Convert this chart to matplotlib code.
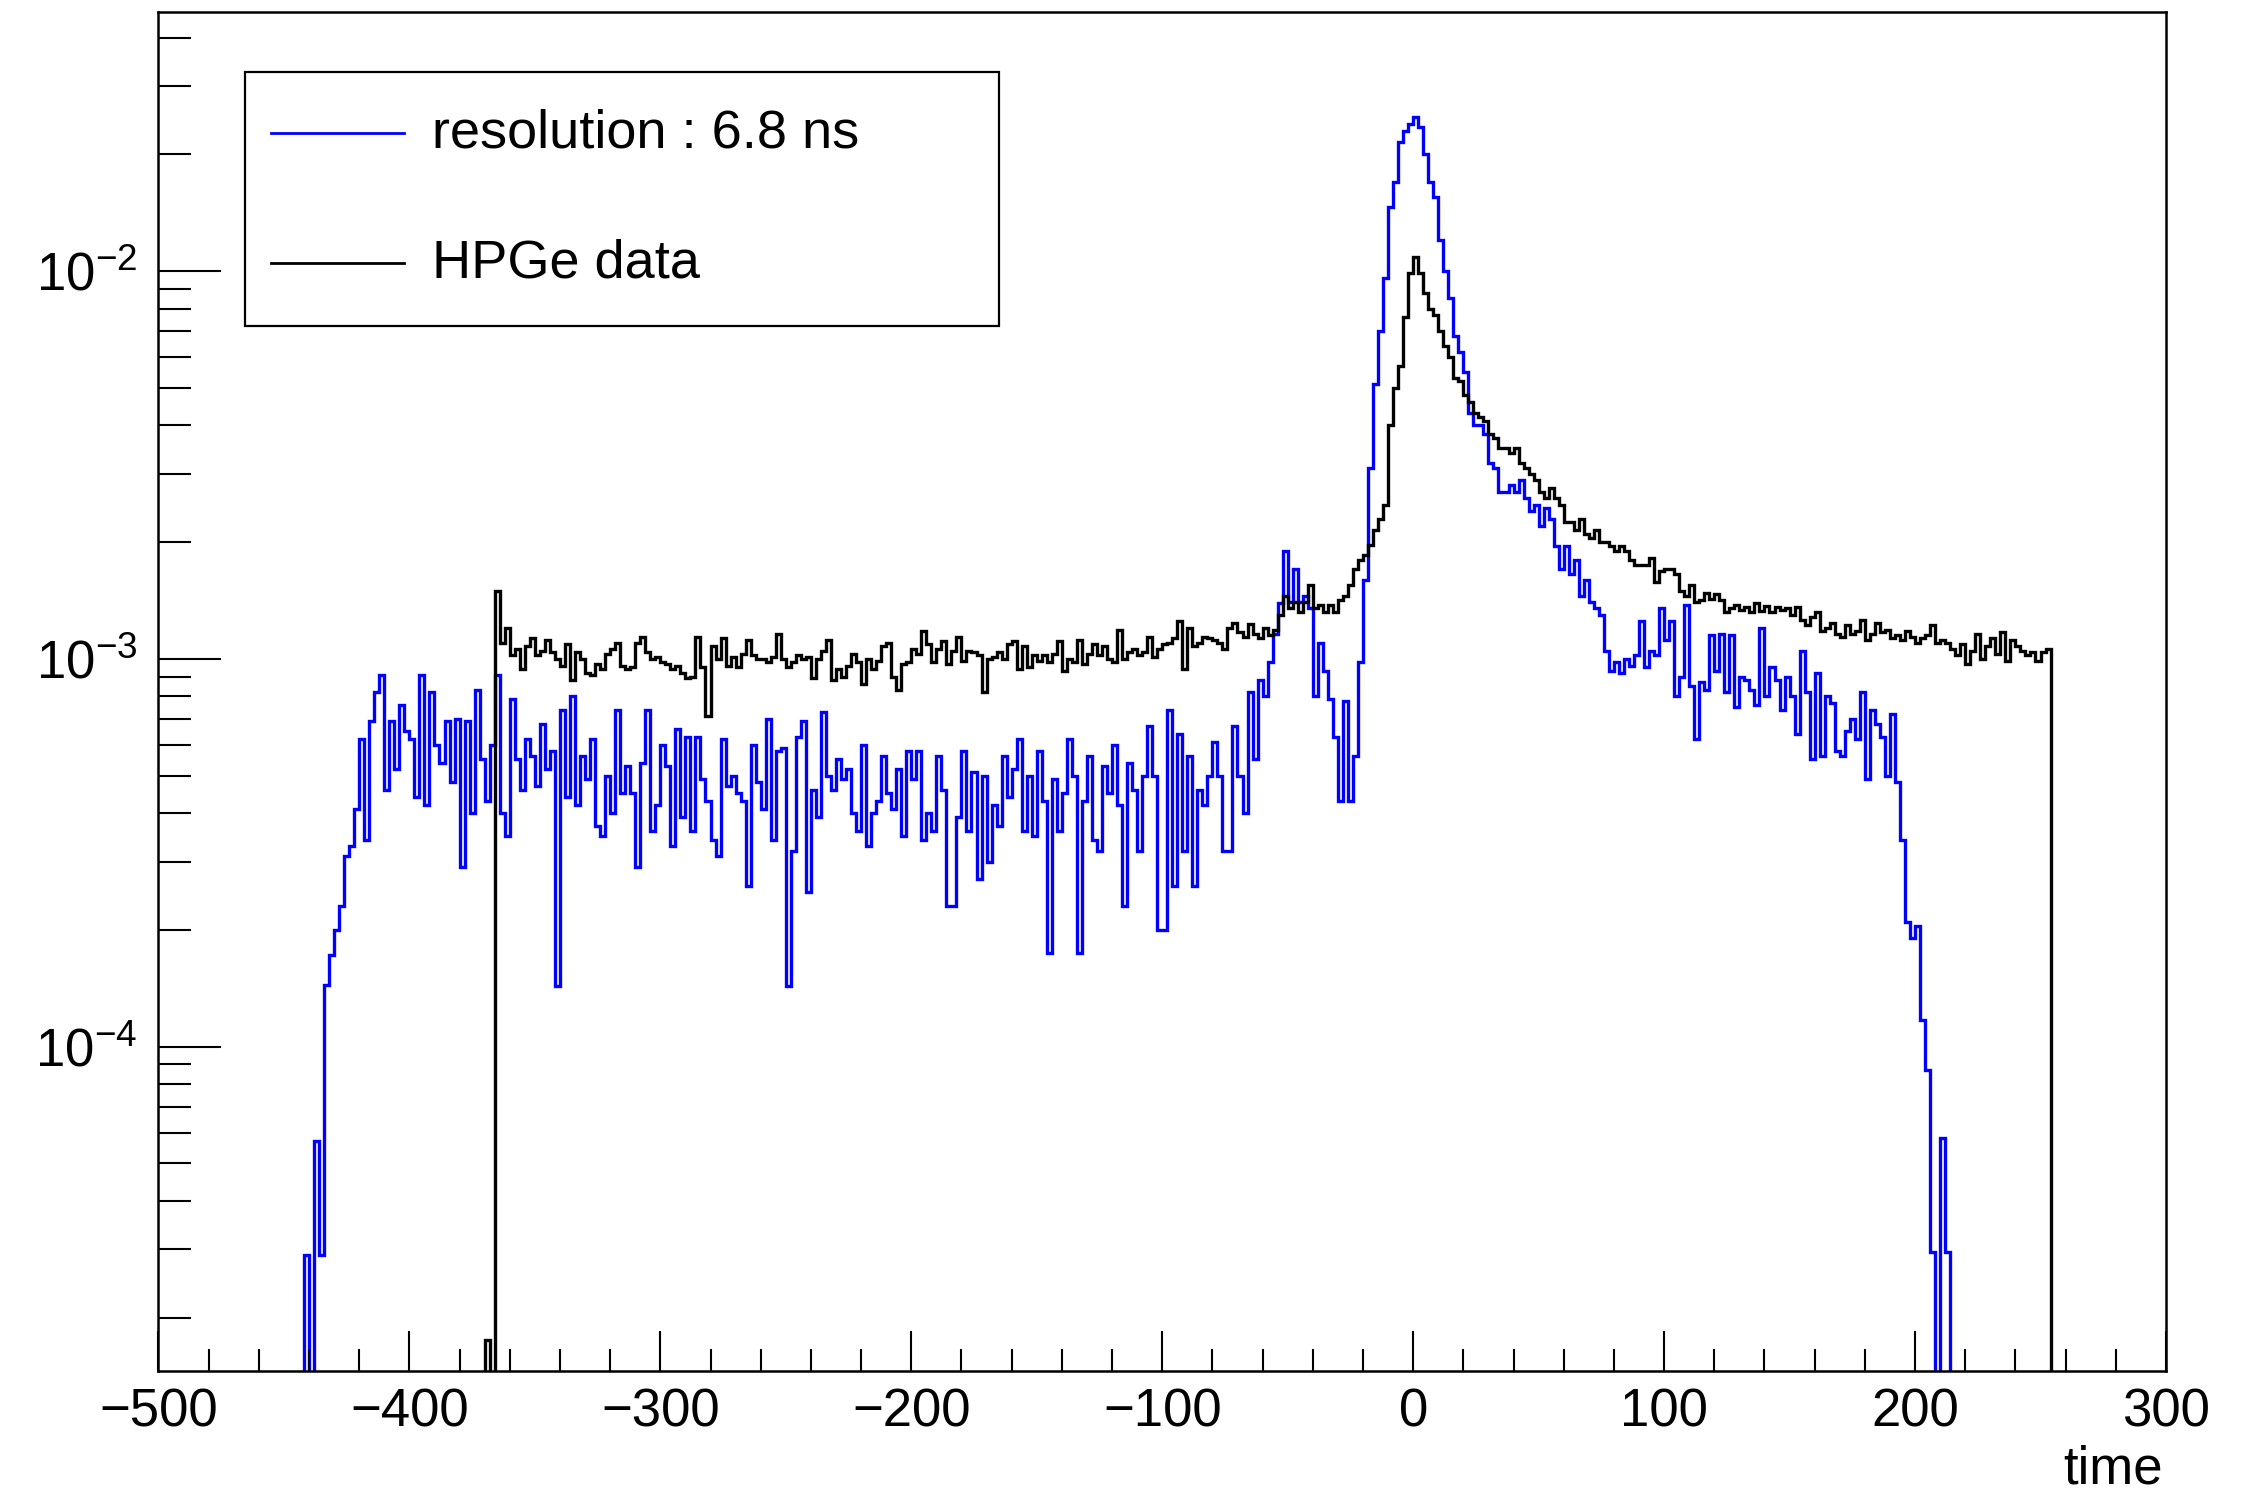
import numpy as np
import matplotlib
matplotlib.use('Agg')
import matplotlib.pyplot as plt
from matplotlib.ticker import LogLocator, MultipleLocator, NullFormatter
from matplotlib.lines import Line2D
from matplotlib.patches import Rectangle

plt.rcParams['font.family'] = ['Liberation Sans', 'DejaVu Sans']
plt.rcParams['mathtext.fontset'] = 'custom'
plt.rcParams['mathtext.rm'] = 'Liberation Sans'
plt.rcParams['mathtext.it'] = 'Liberation Sans:italic'
plt.rcParams['mathtext.bf'] = 'Liberation Sans:bold'

# histogram contents, 2 ns bins, in units of 1e-4
bin_width = 2.0
unit = 1e-4

sim_start = -446
sim_values = [
    0, 0, 0.29, 0, 0.57, 0.29, 1.44, 1.72, 2.0, 2.3,            # -446
    3.1, 3.3, 4.1, 6.2, 3.4, 6.9, 8.2, 9.1, 4.6, 6.9,           # -426
    5.2, 7.6, 6.5, 6.2, 4.4, 9.1, 4.2, 8.2, 6.0, 5.4,           # -406
    6.9, 4.8, 7.0, 2.9, 6.9, 4.0, 8.3, 5.5, 4.3, 6.0,           # -386
    9.1, 4.0, 3.5, 7.9, 5.5, 4.6, 6.2, 5.6, 4.7, 6.8,           # -366
    5.2, 5.8, 1.43, 7.4, 4.4, 8.0, 4.2, 5.6, 4.9, 6.2,          # -346
    3.7, 3.5, 5.0, 4.0, 7.4, 4.5, 5.3, 4.5, 2.9, 5.4,           # -326
    7.4, 3.6, 4.2, 6.0, 5.3, 3.3, 6.6, 3.9, 6.3, 3.6,           # -306
    6.3, 4.9, 4.3, 3.4, 3.1, 6.2, 4.7, 5.0, 4.5, 4.3,           # -286
    2.6, 6.0, 4.8, 4.1, 7.0, 3.4, 5.8, 5.9, 1.43, 3.2,          # -266
    6.3, 6.9, 2.5, 4.6, 3.9, 7.3, 5.0, 4.6, 5.5, 4.9,           # -246
    5.2, 4.0, 3.6, 6.0, 3.3, 4.0, 4.3, 5.6, 4.5, 4.1,           # -226
    5.2, 3.5, 5.8, 4.9, 5.8, 3.4, 4.0, 3.6, 5.6, 4.6,           # -206
    2.3, 2.3, 3.9, 5.8, 3.6, 5.1, 2.7, 5.0, 3.0, 4.2,           # -186
    3.7, 5.6, 4.4, 5.2, 6.2, 3.6, 5.0, 3.5, 5.8, 4.3,           # -166
    1.74, 4.9, 3.6, 4.5, 6.2, 5.0, 1.74, 4.3, 5.6, 3.4,         # -146
    3.2, 5.3, 4.5, 6.0, 4.2, 2.3, 5.4, 4.6, 3.2, 5.0,           # -126
    6.7, 5.0, 2.0, 2.0, 7.4, 2.6, 6.4, 3.2, 5.6, 2.6,           # -106
    4.6, 4.2, 5.0, 6.1, 5.0, 3.2, 3.2, 6.7, 5.0, 4.0,           # -86
    8.2, 5.5, 8.8, 8.0, 9.8, 11.6, 13.9, 19, 14, 17,            # -66
    14, 14.5, 13.5, 8.0, 11, 9.3, 7.9, 6.3, 4.3, 7.8,           # -46
    4.3, 5.6, 9.8, 16, 31, 51, 70, 96, 146, 170,                # -26
    215, 230, 240, 250, 235, 200, 170, 155, 120, 100,           # -6
    85, 68, 62, 55, 43, 40, 40, 38, 32, 31,                     # 14
    27, 27, 28, 27, 29, 26, 24, 25, 22, 24.5,                   # 34
    23, 19.5, 17, 19.5, 16.5, 18, 14.5, 16, 14, 13.5,           # 54
    13, 10.5, 9.3, 9.8, 9.2, 10, 9.6, 10.2, 12.5, 9.5,          # 74
    10.5, 10.2, 13.5, 11.2, 12.5, 8.0, 9.0, 13.8, 8.5, 6.2,     # 94
    8.7, 8.3, 11.5, 9.3, 11.6, 8.2, 11.5, 7.5, 9.0, 8.8,        # 114
    8.3, 7.6, 12.0, 8.0, 9.5, 8.8, 7.4, 9.0, 8.0, 6.4,          # 134
    10.5, 8.2, 5.5, 9.2, 5.6, 8.0, 7.7, 5.8, 5.6, 6.5,          # 154
    7.0, 6.2, 8.2, 4.9, 7.4, 6.8, 6.3, 5.0, 7.2, 4.8,           # 174
    3.4, 2.1, 1.9, 2.05, 1.17, 0.87, 0.295, 0, 0.58, 0.295,     # 194
    0,                                                          # 214
]

data_start = -370
data_values = [
    0.175, 0, 15, 11.0, 12.0, 10.2, 10.6, 9.4, 10.8, 11.3,      # -370
    10.2, 10.5, 11.2, 10.4, 10.0, 9.6, 10.9, 8.8, 10.4, 10.0,   # -350
    9.2, 9.1, 9.7, 9.4, 10.3, 10.6, 11.0, 9.6, 9.4, 9.5,        # -330
    11.0, 11.4, 10.4, 10.0, 10.1, 9.8, 9.7, 9.4, 9.6, 9.2,      # -310
    8.9, 9.0, 11.4, 9.5, 7.1, 10.8, 10.0, 11.3, 9.6, 10.1,      # -290
    9.5, 10.3, 11.2, 10.2, 10.0, 10.0, 9.8, 10.1, 11.6, 10.0,   # -270
    9.5, 9.8, 10.2, 10.0, 10.1, 8.9, 10.0, 10.5, 11.2, 8.8,     # -250
    9.4, 9.0, 9.6, 10.3, 9.8, 8.6, 10.0, 9.4, 9.9, 10.8,        # -230
    11.0, 9.0, 8.3, 9.7, 9.8, 10.6, 10.3, 11.8, 10.9, 9.8,      # -210
    10.6, 11.1, 9.7, 10.5, 11.4, 9.9, 10.5, 10.4, 10.2, 8.2,    # -190
    10.0, 10.1, 10.4, 10.0, 10.9, 11.1, 9.4, 10.8, 9.5, 10.2,   # -170
    9.9, 10.2, 9.8, 10.3, 11.1, 9.3, 10.0, 9.8, 11.2, 9.7,      # -150
    10.3, 10.9, 10.2, 10.8, 10.0, 9.8, 11.9, 10.0, 10.4, 10.6,  # -130
    10.2, 10.4, 11.4, 10.1, 10.6, 10.9, 11.0, 11.3, 12.5, 9.4,  # -110
    12.0, 10.8, 11.0, 11.4, 11.3, 11.2, 11.0, 10.6, 12.0, 12.4, # -90
    11.7, 11.4, 12.3, 11.6, 11.3, 12.0, 11.5, 11.9, 13.0, 14.5, # -70
    13.5, 14.0, 13.2, 14.0, 15.5, 13.5, 13.8, 13.2, 13.8, 13.2, # -50
    14.2, 14.5, 15.5, 17, 18, 18.5, 19.7, 21.5, 23, 25,         # -30
    40, 50, 57, 76, 99, 109, 99, 88, 80, 77,                    # -10
    70, 64, 60, 53, 52, 48, 46, 43, 42, 41,                     # 10
    38, 37, 35, 35, 34, 35, 32, 31, 30, 29,                     # 30
    27, 26, 27.5, 26, 25, 22.5, 22.5, 21.5, 23, 21,             # 50
    20.5, 21.5, 20, 20, 19.5, 19, 19.5, 19, 18, 17.5,           # 70
    17.5, 17.5, 18.2, 15.8, 16.8, 17, 17, 16.5, 15, 14.5,       # 90
    15.5, 14, 14.2, 14.8, 14.3, 14.7, 14.2, 13.2, 13.5, 13.8,   # 110
    13.4, 13.6, 13.2, 13.9, 13.3, 13.7, 13.2, 13.6, 13.4, 13.5, # 130
    13.0, 13.6, 12.6, 12.2, 12.8, 13.2, 11.8, 12.0, 12.4, 11.6, # 150
    11.4, 12.2, 11.6, 11.8, 12.6, 11.2, 11.6, 12.4, 11.7, 11.9, # 170
    11.3, 11.5, 11.2, 11.8, 11.4, 11.0, 11.3, 11.5, 12.2, 11.0, # 190
    11.2, 11.0, 10.6, 10.2, 10.9, 9.7, 10.5, 11.6, 10.0, 10.8,  # 210
    11.3, 10.3, 11.7, 9.9, 11.2, 10.8, 10.5, 10.2, 10.4, 9.9,   # 230
    10.4, 10.6,                                                 # 250
]

legend_labels = ['resolution : 6.8 ns', 'HPGe data']
x_label = 'time'


def edges_for(start, values):
    return start + bin_width * np.arange(len(values) + 1)


sim = np.array(sim_values) * unit
data = np.array(data_values) * unit

fig = plt.figure(figsize=(22.6, 14.95), dpi=100)
ax = fig.add_axes([0.0701, 0.0829, 0.8883, 0.9094])

ax.stairs(sim, edges_for(sim_start, sim_values), color='#0000ff', lw=2.4, baseline=0)
ax.stairs(data, edges_for(data_start, data_values), color='black', lw=2.4, baseline=0)

ax.set_yscale('log')
ax.set_xlim(-500, 300)
ax.set_ylim(1.456e-5, 4.67e-2)

ax.xaxis.set_major_locator(MultipleLocator(100))
ax.xaxis.set_minor_locator(MultipleLocator(20))
ax.yaxis.set_major_locator(LogLocator(base=10))
ax.yaxis.set_minor_locator(LogLocator(base=10, subs=np.arange(2, 10)))
ax.yaxis.set_minor_formatter(NullFormatter())

for s in ax.spines.values():
    s.set_linewidth(1.8)

ax.tick_params(axis='both', which='both', direction='in', top=False, right=False,
               width=1.5, labelsize=38)
ax.tick_params(axis='x', which='major', length=29, pad=12)
ax.tick_params(axis='x', which='minor', length=16)
ax.tick_params(axis='y', which='major', length=45, pad=15)
ax.tick_params(axis='y', which='minor', length=24)

fig.text(0.957, 1 - 1470 / 1495, x_label, ha='right', va='center', fontsize=38)

# legend box drawn like ROOT's TLegend
fig.patches.append(Rectangle((0.1084, 0.7819), 0.3336, 0.1699, transform=fig.transFigure,
                             fill=False, edgecolor='black', lw=1.6))
legend_colors = ['#0000ff', 'black']
legend_y = [1 - 133 / 1495, 1 - 263 / 1495]
for lab, col, yy in zip(legend_labels, legend_colors, legend_y):
    fig.lines.append(Line2D([0.1199, 0.1788], [yy, yy], transform=fig.transFigure,
                            color=col, lw=2.0))
    fig.text(0.1912, yy, lab, ha='left', va='center', fontsize=39)

fig.savefig('out.png', dpi=100)
